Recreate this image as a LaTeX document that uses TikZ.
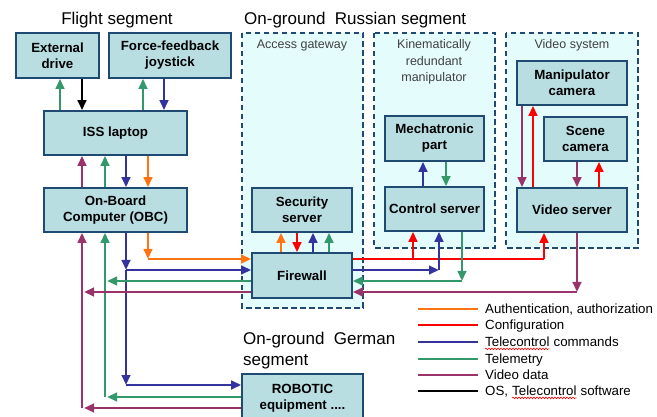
\documentclass[tikz,border=0pt]{standalone}
\usepackage{fontspec}
\setmainfont{Liberation Sans}
\usetikzlibrary{arrows.meta,decorations.pathmorphing}
\definecolor{boxfill}{HTML}{B8DEE2}
\definecolor{boxline}{HTML}{1F4A72}
\definecolor{grpfill}{HTML}{E5FCFD}
\definecolor{cOr}{HTML}{FF7410}
\definecolor{cRd}{HTML}{FF0000}
\definecolor{cBl}{HTML}{3333A0}
\definecolor{cGn}{HTML}{33996A}
\definecolor{cPu}{HTML}{99336A}
\definecolor{lbl}{HTML}{404040}
\begin{document}
\begin{tikzpicture}[x=1pt,y=-1pt,
 box/.style={draw=boxline,fill=boxfill,line width=1.6pt,font=\fontsize{13.3}{16}\selectfont\bfseries,align=center,inner sep=0pt},
 grp/.style={draw=boxline,fill=grpfill,line width=1.6pt,dash pattern=on 5.5pt off 3.5pt},
 con/.style={line width=2.5pt},
 arr/.style={con,-{Triangle[length=10pt,width=8.5pt]}},
 ttl/.style={font=\fontsize{17}{21}\selectfont,inner sep=0pt},
 grplbl/.style={font=\fontsize{12.5}{16.5}\selectfont,text=lbl,align=center,inner sep=0pt},
 leg/.style={font=\fontsize{13.3}{16}\selectfont,anchor=base west,inner sep=0pt},
 wavy/.style={draw=cRd,line width=0.6pt,decorate,decoration={snake,amplitude=0.8pt,segment length=3pt}}]
\fill[white] (0,0) rectangle (657,417);
\useasboundingbox (0,0) rectangle (657,417);

% titles
\node[ttl] (tflight) at (117,20) {Flight segment};
\node[ttl,anchor=west] (trus) at (244,20) {On-ground\ \ Russian segment};
\node[ttl,anchor=west,align=left] (tger) at (243,350.5) {On-ground\ \ German\\segment};

% groups
\draw[grp] (242,33) rectangle (363,308);
\draw[grp] (374,33) rectangle (495,248);
\draw[grp] (506,33) rectangle (638,248);
\node[grplbl] (lag) at (302,45) {Access gateway};
\node[grplbl] (lkrm) at (434,62) {Kinematically\\redundant\\manipulator};
\node[grplbl] (lvs) at (572,45) {Video system};

% boxes
\node[box,minimum width=83pt,minimum height=45pt] (ext) at (57.5,55.5) {External\\drive};
\node[box,minimum width=122pt,minimum height=45pt] (joy) at (170,55.5) {Force-feedback\\joystick};
\node[box,minimum width=143pt,minimum height=44pt] (iss) at (115.5,133) {ISS laptop};
\node[box,minimum width=143pt,minimum height=44pt] (obc) at (115.5,210) {On-Board\\Computer (OBC)};
\node[box,minimum width=100pt,minimum height=44pt] (sec) at (302,210) {Security\\server};
\node[box,minimum width=100pt,minimum height=45pt] (fw) at (302,275.5) {Firewall};
\node[box,minimum width=99pt,minimum height=45pt] (mech) at (434.5,138.5) {Mechatronic\\part};
\node[box,minimum width=99pt,minimum height=44pt] (ctl) at (434.5,209) {Control server};
\node[box,minimum width=110pt,minimum height=44pt] (mcam) at (572,83) {Manipulator\\camera};
\node[box,minimum width=83pt,minimum height=44pt] (scam) at (585.5,139) {Scene\\camera};
\node[box,minimum width=110pt,minimum height=44pt] (vsrv) at (572,210) {Video server};
\node[box,minimum width=121pt,minimum height=48pt] (rob) at (302.5,398) {ROBOTIC\\equipment ....};

% flight segment links
\draw[arr,cGn] (iss.north -| 60,0) -- (ext.south -| 60,0);
\draw[arr,black] (ext.south -| 82,0) -- (iss.north -| 82,0);
\draw[arr,cGn] (iss.north -| 143,0) -- (joy.south -| 143,0);
\draw[arr,cBl] (joy.south -| 164,0) -- (iss.north -| 164,0);
\draw[arr,cPu] (obc.north -| 82,0) -- (iss.south -| 82,0);
\draw[arr,cGn] (obc.north -| 105,0) -- (iss.south -| 105,0);
\draw[arr,cBl] (iss.south -| 126,0) -- (obc.north -| 126,0);
\draw[arr,cOr] (iss.south -| 148,0) -- (obc.north -| 148,0);

% OBC outgoing
\coordinate (oOr) at (148,259);
\coordinate (oBl1) at (126,270);
\coordinate (oBl2) at (126,385);
\coordinate (oGn1) at (105,281);
\coordinate (oGn2) at (105,397);
\coordinate (oPu1) at (82,292);
\coordinate (oPu2) at (82,408);
\draw[arr,cOr] (obc.south -| oOr) -- (oOr);
\draw[arr,cOr] (oOr) -- (fw.west |- oOr);
\draw[arr,cBl] (obc.south -| oBl1) -- (oBl1);
\draw[arr,cBl] (oBl1) -- (oBl2);
\draw[arr,cBl] (oBl1) -- (fw.west |- oBl1);
\draw[arr,cBl] (oBl2) -- (rob.west |- oBl2);
\draw[arr,cGn] (fw.west |- oGn1) -- ([xshift=2pt]oGn1);
\draw[arr,cGn] (rob.west |- oGn2) -- ([xshift=2pt]oGn2);
\draw[arr,cGn] (oGn2) -- (obc.south -| oGn2);
\draw[arr,cPu] (fw.west |- oPu1) -- ([xshift=2pt]oPu1);
\draw[arr,cPu] (rob.west |- oPu2) -- ([xshift=2pt]oPu2);
\draw[arr,cPu] (oPu2) -- (obc.south -| oPu2);

% security <-> firewall
\draw[arr,cOr] (fw.north -| 281,0) -- (sec.south -| 281,0);
\draw[arr,cRd] (sec.south -| 297,0) -- (fw.north -| 297,0);
\draw[arr,cBl] (fw.north -| 313,0) -- (sec.south -| 313,0);
\draw[arr,cGn] (fw.north -| 329,0) -- (sec.south -| 329,0);

% firewall right side
\coordinate (rRd1) at (413,259);
\coordinate (rRd2) at (544,259);
\coordinate (rBl) at (439,270);
\coordinate (rGn) at (462,281);
\coordinate (rPu) at (577,292);
\draw[con,cRd] (fw.east |- rRd2) -- (rRd2);
\draw[arr,cRd] (rRd2) -- (vsrv.south -| rRd2);
\draw[arr,cRd] (rRd1) -- (ctl.south -| rRd1);
\draw[arr,cBl] (fw.east |- rBl) -- (rBl);
\draw[arr,cBl] (rBl) -- (ctl.south -| rBl);
\draw[arr,cGn] (ctl.south -| rGn) -- (rGn);
\draw[arr,cGn] (rGn) -- (fw.east |- rGn);
\draw[arr,cPu] (vsrv.south -| rPu) -- (rPu);
\draw[arr,cPu] (rPu) -- (fw.east |- rPu);

% manipulator
\draw[arr,cBl] (ctl.north -| 423,0) -- (mech.south -| 423,0);
\draw[arr,cGn] (mech.south -| 446,0) -- (ctl.north -| 446,0);

% video system
\draw[arr,cPu] (mcam.south -| 522,0) -- (vsrv.north -| 522,0);
\draw[arr,cRd] (vsrv.north -| 533,0) -- (mcam.south -| 533,0);
\draw[arr,cPu] (scam.south -| 577,0) -- (vsrv.north -| 577,0);
\draw[arr,cRd] (vsrv.north -| 599,0) -- (scam.south -| 599,0);

% legend
\coordinate (g1a) at (418,309); \coordinate (g1b) at (478,309);
\coordinate (g2a) at (418,325); \coordinate (g2b) at (478,325);
\coordinate (g3a) at (418,342); \coordinate (g3b) at (478,342);
\coordinate (g4a) at (418,359); \coordinate (g4b) at (478,359);
\coordinate (g5a) at (418,375); \coordinate (g5b) at (478,375);
\coordinate (g6a) at (418,391); \coordinate (g6b) at (478,391);
\draw[con,cOr] (g1a) -- (g1b);
\draw[con,cRd] (g2a) -- (g2b);
\draw[con,cBl] (g3a) -- (g3b);
\draw[con,cGn] (g4a) -- (g4b);
\draw[con,cPu] (g5a) -- (g5b);
\draw[con,black] (g6a) -- (g6b);
\node[leg] (t1) at (485,313.7) {Authentication, authorization};
\node[leg] (t2) at (485,329.7) {Configuration};
\node[leg] (t3a) at (485,346.7) {Telecontrol};
\node[leg] (t3b) at ([xshift=3.7pt]t3a.base east) {commands};
\node[leg] (t4) at (485,363.7) {Telemetry};
\node[leg] (t5) at (485,379.7) {Video data};
\node[leg] (t6a) at (485,395.7) {OS,};
\node[leg] (t6b) at ([xshift=3.7pt]t6a.base east) {Telecontrol};
\node[leg] (t6c) at ([xshift=3.7pt]t6b.base east) {software};
\draw[wavy] ([yshift=-2.2pt]t3a.base west) -- ([yshift=-2.2pt]t3a.base east);
\draw[wavy] ([yshift=-2.2pt]t6b.base west) -- ([yshift=-2.2pt]t6b.base east);
\end{tikzpicture}
\end{document}
